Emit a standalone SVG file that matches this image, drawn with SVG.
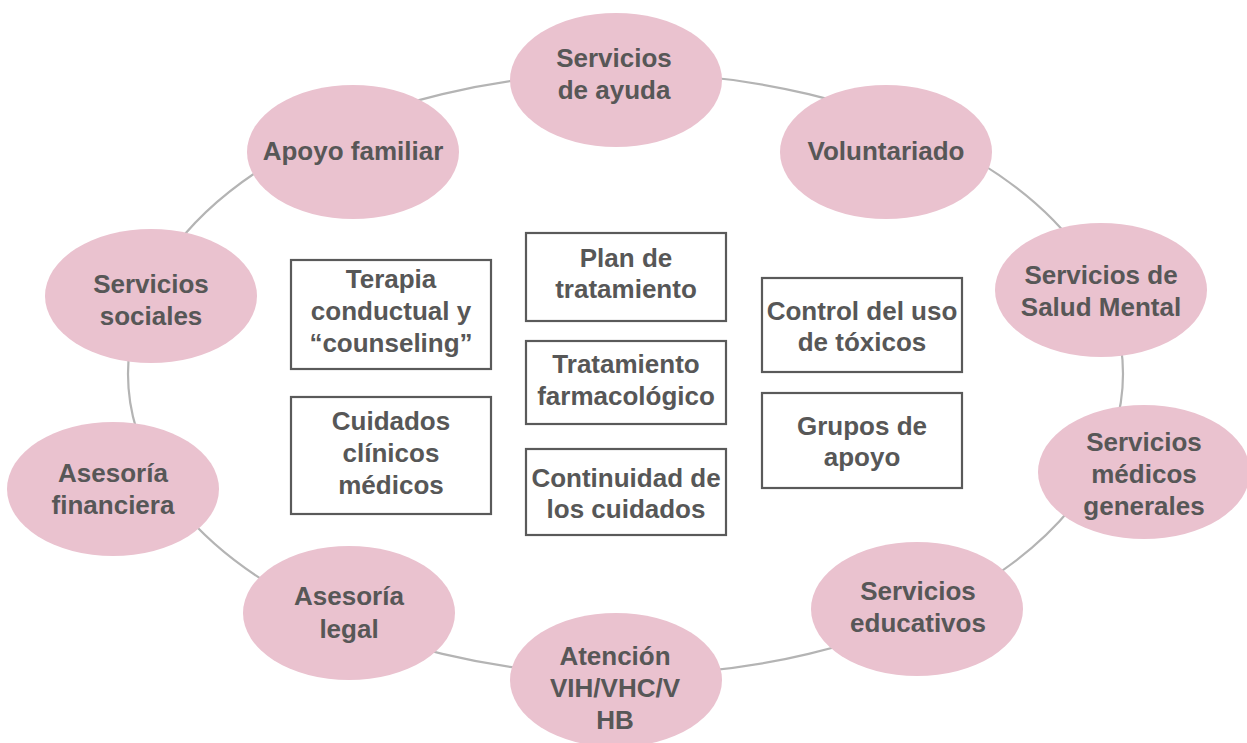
<svg xmlns="http://www.w3.org/2000/svg" width="1247" height="743" viewBox="0 0 1247 743">
<style>
.ring{fill:none;stroke:#b4b4b4;stroke-width:2.2}
.pe{fill:#eac2cf}
.bx{fill:#fff;stroke:#5a5a5a;stroke-width:2.2}
text{font-family:"Liberation Sans",Arial,Helvetica,sans-serif;font-weight:bold;font-size:26px;fill:#575757;text-anchor:middle}
</style>
<rect width="1247" height="743" fill="#fff"/>
<g id="connectors">
<ellipse class="ring" cx="625.5" cy="374" rx="497.5" ry="301"/>
</g>
<g id="n-ayuda"><ellipse class="pe" cx="616" cy="80" rx="106" ry="67"/><text x="614" y="67">Servicios</text><text x="614" y="99">de ayuda</text></g>
<g id="n-apoyo-familiar"><ellipse class="pe" cx="353" cy="152" rx="106" ry="67"/><text x="353" y="160">Apoyo familiar</text></g>
<g id="n-voluntariado"><ellipse class="pe" cx="886" cy="152" rx="106" ry="67"/><text x="886" y="160">Voluntariado</text></g>
<g id="n-salud-mental"><ellipse class="pe" cx="1101" cy="290" rx="106" ry="67"/><text x="1101" y="284">Servicios de</text><text x="1101" y="316">Salud Mental</text></g>
<g id="n-medicos-generales"><ellipse class="pe" cx="1144" cy="472" rx="106" ry="67"/><text x="1144" y="451">Servicios</text><text x="1144" y="483">médicos</text><text x="1144" y="515">generales</text></g>
<g id="n-educativos"><ellipse class="pe" cx="917" cy="609" rx="106" ry="67"/><text x="918" y="600">Servicios</text><text x="918" y="632">educativos</text></g>
<g id="n-atencion"><ellipse class="pe" cx="616" cy="680" rx="106" ry="67"/><text x="615" y="665">Atención</text><text x="615" y="697">VIH/VHC/V</text><text x="615" y="729">HB</text></g>
<g id="n-legal"><ellipse class="pe" cx="349" cy="613" rx="106" ry="67"/><text x="349" y="605">Asesoría</text><text x="349" y="638">legal</text></g>
<g id="n-financiera"><ellipse class="pe" cx="113" cy="489" rx="106" ry="67"/><text x="113" y="482">Asesoría</text><text x="113" y="514">financiera</text></g>
<g id="n-sociales"><ellipse class="pe" cx="151" cy="296" rx="106" ry="67"/><text x="151" y="293">Servicios</text><text x="151" y="325">sociales</text></g>
<g id="b-terapia"><rect class="bx" x="291" y="260" width="200" height="109"/><text x="391" y="288">Terapia</text><text x="391" y="320">conductual y</text><text x="391" y="352">“counseling”</text></g>
<g id="b-cuidados"><rect class="bx" x="291" y="397" width="200" height="117"/><text x="391" y="430">Cuidados</text><text x="391" y="462">clínicos</text><text x="391" y="494">médicos</text></g>
<g id="b-plan"><rect class="bx" x="526" y="233" width="200" height="88"/><text x="626" y="267">Plan de</text><text x="626" y="298">tratamiento</text></g>
<g id="b-farmaco"><rect class="bx" x="526" y="341" width="200" height="83"/><text x="626" y="373">Tratamiento</text><text x="626" y="405">farmacológico</text></g>
<g id="b-continuidad"><rect class="bx" x="526" y="449" width="200" height="86"/><text x="626" y="487">Continuidad de</text><text x="626" y="518">los cuidados</text></g>
<g id="b-control"><rect class="bx" x="762" y="278" width="200" height="94"/><text x="862" y="320">Control del uso</text><text x="862" y="351">de tóxicos</text></g>
<g id="b-grupos"><rect class="bx" x="762" y="393" width="200" height="95"/><text x="862" y="435">Grupos de</text><text x="862" y="466">apoyo</text></g>
</svg>
